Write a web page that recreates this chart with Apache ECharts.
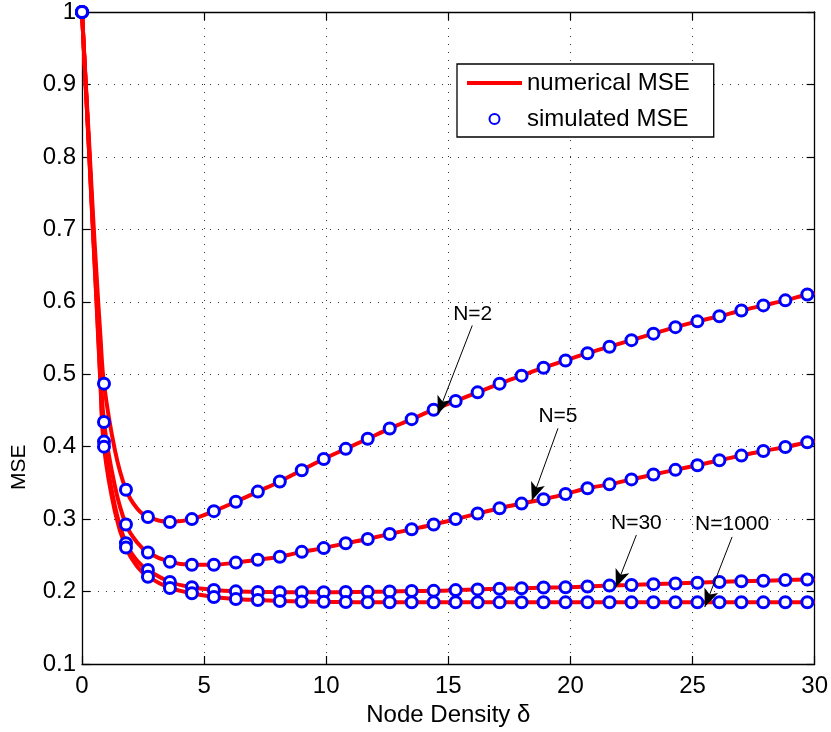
<!DOCTYPE html>
<html>
<head>
<meta charset="utf-8">
<script src="https://cdn.jsdelivr.net/npm/echarts@6/dist/echarts.min.js"></script>
<style>
  html, body { margin: 0; padding: 0; background: #ffffff; }
  #main { width: 831px; height: 732px; }
</style>
</head>
<body>
<div id="main"></div>
<script>
// Node densities at which the simulated MSE was sampled
const densityX = [0, 0.9, 1.8, 2.7, 3.6, 4.5, 5.4, 6.3, 7.2, 8.1, 9.0, 9.9, 10.8, 11.7, 12.6, 13.5, 14.4,
  15.3, 16.2, 17.1, 18.0, 18.9, 19.8, 20.7, 21.6, 22.5, 23.4, 24.3, 25.2, 26.1, 27.0, 27.9, 28.8, 29.7];

// MSE per number of nodes N, at the densities above
const mseN2 = [1.0, 0.487, 0.3405, 0.303, 0.296, 0.300, 0.311, 0.324, 0.338, 0.352, 0.3675, 0.383, 0.397,
  0.411, 0.425, 0.438, 0.451, 0.463, 0.475, 0.487, 0.498, 0.509, 0.519, 0.529, 0.538, 0.547, 0.556, 0.565,
  0.573, 0.580, 0.588, 0.595, 0.602, 0.610];
const mseN5 = [1.0, 0.434, 0.2926, 0.254, 0.241, 0.237, 0.237, 0.240, 0.244, 0.248, 0.2548, 0.260, 0.2666,
  0.2726, 0.2795, 0.286, 0.2926, 0.300, 0.3077, 0.315, 0.3214, 0.3274, 0.3347, 0.3425, 0.348, 0.3548, 0.3616,
  0.368, 0.3744, 0.3812, 0.3877, 0.394, 0.3995, 0.406];
const mseN30 = [1.0, 0.407, 0.2667, 0.2297, 0.2132, 0.2059, 0.2023, 0.2003, 0.1995, 0.1992, 0.1991, 0.1991,
  0.1993, 0.1996, 0.2000, 0.2008, 0.2010, 0.2020, 0.2030, 0.2038, 0.2046, 0.2055, 0.2060, 0.2070, 0.2082,
  0.2090, 0.2102, 0.2112, 0.2122, 0.2132, 0.2142, 0.2150, 0.2158, 0.2166];
const mseN1000 = [1.0, 0.400, 0.2607, 0.2205, 0.205, 0.1977, 0.1925, 0.1897, 0.1882, 0.1870, 0.1863, 0.1858,
  0.1855, 0.1853, 0.1852, 0.1852, 0.1851, 0.1852, 0.1852, 0.1851, 0.1852, 0.1852, 0.1851, 0.1852, 0.1852,
  0.1851, 0.1852, 0.1852, 0.1851, 0.1852, 0.1852, 0.1851, 0.1852, 0.1852];

// Extra densities where the numerical curve is evaluated more finely
const curveX = [0.15, 0.3, 0.45, 0.6, 0.75, 1.35, 2.25, 30];
const curveN2 = [0.905, 0.815, 0.72, 0.635, 0.555, 0.395, 0.315, 0.612];
const curveN5 = [0.90, 0.805, 0.705, 0.61, 0.515, 0.345, 0.268, 0.408];
const curveN30 = [0.90, 0.80, 0.70, 0.60, 0.495, 0.318, 0.243, 0.2168];
const curveN1000 = [0.90, 0.80, 0.695, 0.595, 0.49, 0.31, 0.235, 0.1852];

// Axis ticks
const xTicks = [0, 5, 10, 15, 20, 25, 30];
const yTicks = [0.1, 0.2, 0.3, 0.4, 0.5, 0.6, 0.7, 0.8, 0.9, 1];

// Curve annotations: label, label centre, arrow tail, arrow head (data coordinates)
const noteText = ['N=2', 'N=5', 'N=30', 'N=1000'];
const notePos = [[16.0, 0.5835], [19.49, 0.4425], [22.7, 0.2949], [26.62, 0.2927]];
const arrowFrom = [[15.98, 0.5673], [19.49, 0.4253], [22.7, 0.278], [26.62, 0.2754]];
const arrowTo = [[14.57, 0.4448], [18.42, 0.3258], [21.86, 0.2058], [25.5, 0.1786]];

const FONT = "'Liberation Sans', Arial, Helvetica, sans-serif";
const RED = '#ff0000';
const BLUE = '#0000ff';

function pairs(xs, ys) {
  return xs.map((x, i) => [x, ys[i]]);
}
function curve(xs, ys, extraX, extraY) {
  return pairs(xs, ys).concat(pairs(extraX, extraY)).sort((a, b) => a[0] - b[0]);
}

const groups = [
  [mseN2, curveN2],
  [mseN5, curveN5],
  [mseN30, curveN30],
  [mseN1000, curveN1000]
];

const series = [];
groups.forEach(([mse, extra]) => {
  series.push({
    name: 'numerical MSE',
    type: 'line',
    data: curve(densityX, mse, curveX, extra),
    smooth: 0.35,
    symbol: 'none',
    lineStyle: { color: RED, width: 4 },
    itemStyle: { color: RED },
    z: 2
  });
});
groups.forEach(([mse]) => {
  series.push({
    name: 'simulated MSE',
    type: 'scatter',
    data: pairs(densityX, mse),
    symbol: 'circle',
    symbolSize: 11,
    clip: false,
    itemStyle: { color: '#ffffff', borderColor: BLUE, borderWidth: 3, opacity: 1 },
    z: 3
  });
});

// Arrows pointing from each label to its curve
series.push({
  name: 'arrows',
  type: 'scatter',
  data: [],
  silent: true,
  markLine: {
    silent: true,
    symbol: ['none', 'arrow'],
    symbolSize: [11, 18],
    label: { show: false },
    lineStyle: { color: '#000', width: 1, type: 'solid' },
    itemStyle: { color: '#000' },
    data: arrowFrom.map((p, i) => [{ coord: p }, { coord: arrowTo[i] }])
  },
  z: 5
});

const axisLineStyle = { color: '#000', width: 1.3 };
const tickStyle = { show: true, inside: true, length: 8, lineStyle: { color: '#000', width: 1.2 } };
const gridLine = { show: true, lineStyle: { color: '#333', width: 1, type: [1, 7] } };

const option = {
  animation: false,
  backgroundColor: '#ffffff',
  grid: { left: 82, right: 16, top: 10, bottom: 65, containLabel: false },
  legend: {
    orient: 'vertical',
    left: 457,
    top: 64,
    padding: [7, 24, 6, 10],
    itemGap: 12,
    itemWidth: 55,
    itemHeight: 10,
    backgroundColor: '#ffffff',
    borderColor: '#000',
    borderWidth: 1.3,
    borderRadius: 0,
    textStyle: { fontFamily: FONT, fontSize: 24, color: '#000', lineHeight: 24 },
    data: [
      { name: 'numerical MSE', icon: 'path://M0,0 L55,0 L55,4 L0,4 Z', itemStyle: { color: RED } },
      { name: 'simulated MSE', icon: 'circle' }
    ]
  },
  xAxis: [
    {
      type: 'value', min: xTicks[0], max: xTicks[xTicks.length - 1], interval: xTicks[1] - xTicks[0],
      position: 'bottom',
      name: 'Node Density δ', nameLocation: 'middle', nameGap: 39,
      nameTextStyle: { fontFamily: FONT, fontSize: 24, color: '#000' },
      axisLine: { show: true, onZero: false, lineStyle: axisLineStyle },
      axisTick: tickStyle,
      axisLabel: { fontFamily: FONT, fontSize: 24, color: '#000', margin: 10 },
      splitLine: gridLine
    },
    {
      type: 'value', min: xTicks[0], max: xTicks[xTicks.length - 1], interval: xTicks[1] - xTicks[0],
      position: 'top',
      axisLine: { show: true, onZero: false, lineStyle: axisLineStyle },
      axisTick: tickStyle,
      axisLabel: { show: false },
      splitLine: { show: false }
    }
  ],
  yAxis: [
    {
      type: 'value', min: yTicks[0], max: yTicks[yTicks.length - 1], interval: 0.1,
      position: 'left',
      axisLine: { show: true, onZero: false, lineStyle: axisLineStyle },
      axisTick: tickStyle,
      axisLabel: {
        fontFamily: FONT, fontSize: 24, color: '#000', margin: 6,
        formatter: v => (Math.abs(v - 1) < 1e-9 ? '1' : v.toFixed(1))
      },
      splitLine: gridLine
    },
    {
      type: 'value', min: yTicks[0], max: yTicks[yTicks.length - 1], interval: 0.1,
      position: 'right',
      axisLine: { show: true, onZero: false, lineStyle: axisLineStyle },
      axisTick: tickStyle,
      axisLabel: { show: false },
      splitLine: { show: false }
    }
  ],
  series: series
};

const chart = echarts.init(document.getElementById('main'), null, { renderer: 'canvas' });
chart.setOption(option);

// Y axis title and the N= labels, placed through the chart's own coordinate system
const texts = [
  {
    type: 'text',
    x: 9,
    y: 490,
    rotation: Math.PI / 2,
    style: { text: 'MSE', fontFamily: FONT, fontSize: 21, fill: '#000' }
  }
];
notePos.forEach((p, i) => {
  const px = chart.convertToPixel({ xAxisIndex: 0, yAxisIndex: 0 }, p);
  texts.push({
    type: 'text',
    x: px[0],
    y: px[1],
    z: 10,
    style: {
      text: noteText[i], fontFamily: FONT, fontSize: 21, fill: '#000',
      align: 'center', verticalAlign: 'middle'
    }
  });
});
chart.setOption({ graphic: texts });
</script>
</body>
</html>
